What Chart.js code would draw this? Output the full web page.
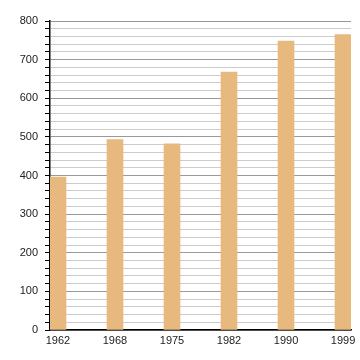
<!DOCTYPE html>
<html>
<head>
<meta charset="utf-8">
<script src="https://cdn.jsdelivr.net/npm/chart.js@4"></script>
<style>
  html, body { margin: 0; padding: 0; background: #fff; }
  #wrap { width: 360px; height: 360px; }
</style>
</head>
<body>
<div id="wrap"><canvas id="popChart" width="360" height="360"></canvas></div>
<script>
var years = ["1962", "1968", "1975", "1982", "1990", "1999"];
var population = [396, 493, 482, 668, 748, 765];
var yTicks = [0, 100, 200, 300, 400, 500, 600, 700, 800];

document.addEventListener('DOMContentLoaded', function() {
  var ctx = document.getElementById('popChart').getContext('2d');

  // bars placed on a linear x axis so the first and last bar touch the edges
  var points = population.map(function(v, i) { return { x: i, y: v }; });

  new Chart(ctx, {
    type: 'bar',
    data: {
      datasets: [{
        data: points,
        backgroundColor: '#e8b97f',
        borderWidth: 0,
        barThickness: 16
      }]
    },
    options: {
      responsive: false,
      animation: false,
      layout: { padding: { top: 21, right: 9, left: 0, bottom: 0 } },
      plugins: { legend: { display: false }, tooltip: { enabled: false } },
      scales: {
        x: {
          type: 'linear',
          offset: false,
          min: -0.14,
          max: years.length - 1 + 0.14,
          afterFit: function(scale) { scale.height = 30; },
          grid: { display: false, drawTicks: false },
          border: { color: '#000', width: 1.5 },
          ticks: {
            stepSize: 1,
            includeBounds: false,
            autoSkip: false,
            maxRotation: 0,
            padding: 4,
            color: '#222',
            font: { family: 'Liberation Sans', size: 11 },
            callback: function(v) { return Number.isInteger(v) ? years[v] : ''; }
          }
        },
        y: {
          min: yTicks[0],
          max: yTicks[yTicks.length - 1],
          afterFit: function(scale) { scale.width = 50; },
          border: { color: '#000', width: 1.5 },
          grid: {
            color: function(c) { return c.tick && c.tick.value % 100 === 0 ? '#999' : '#ccc'; },
            tickColor: '#000',
            tickLength: 5,
            lineWidth: 1
          },
          ticks: {
            stepSize: 20,
            autoSkip: false,
            padding: 7,
            color: '#222',
            font: { family: 'Liberation Sans', size: 11 },
            callback: function(v) { return yTicks.indexOf(v) >= 0 ? String(v) : ''; }
          }
        }
      }
    }
  });
});
</script>
</body>
</html>
